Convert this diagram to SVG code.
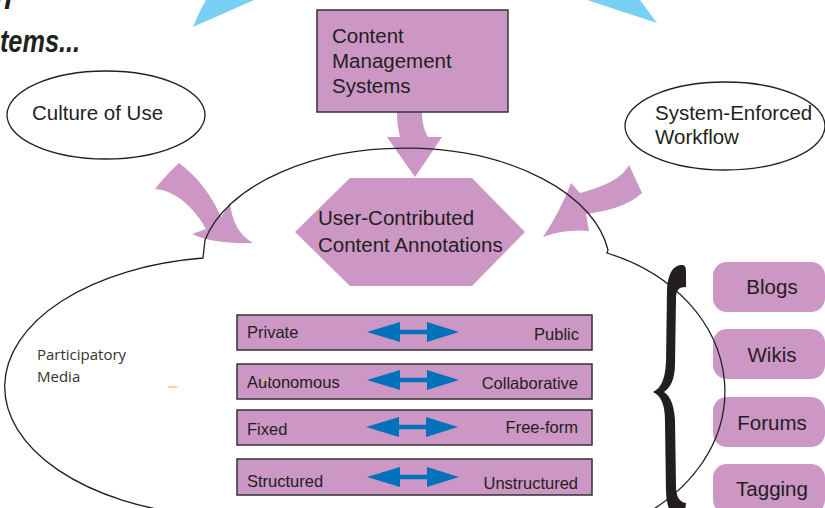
<svg xmlns="http://www.w3.org/2000/svg" width="825" height="508" viewBox="0 0 825 508">
<style>
.lbl{font-family:"Liberation Sans",Arial,sans-serif;font-size:20.5px;fill:#231f20}
.row{font-family:"Liberation Sans",Arial,sans-serif;font-size:16.5px;fill:#231f20}
.pink{fill:#cc96c5}
.bar{fill:#cc96c5;stroke:#333;stroke-width:1.5}
.blue{fill:#0072bc}
.sky{fill:#78d0f5}
.oval{fill:none;stroke:#231f20;stroke-width:1.3}
</style>
<defs>
<path id="dbl" d="M367,0 L400,-10 L400,-2.3 L427,-2.3 L427,-10 L459,0 L427,10 L427,2.3 L400,2.3 L400,10 Z"/>
</defs>
<rect width="825" height="508" fill="#fff"/>
<g id="title">
<text x="12" y="9" text-anchor="end" font-family="Liberation Sans,Arial,sans-serif" font-size="30" font-weight="bold" font-style="italic" fill="#231f20">in</text>
<text x="-45" y="52" textLength="125" lengthAdjust="spacingAndGlyphs" font-family="Liberation Sans,Arial,sans-serif" font-size="31" font-weight="bold" font-style="italic" fill="#231f20">Systems...</text>
</g>
<g id="sky-shapes">
<path class="sky" d="M193,27 Q200,10 206,0 L254,0 Z"/>
<path class="sky" d="M587,0 L640,0 L657,23 Z"/>
</g>
<g id="connectors">
<path class="pink" d="M155,189 C176,190 196,210 206,229 L192,234 Q212,244 253,243 Q233,232 230,203 L221,217 C212,196 198,177 179,163 Q165,176 155,189 Z"/>
<path class="pink" d="M397,112 C397,125 399,132 400,137 L387,137 L415,177 L442,137 L428,137 C424,130 422,122 422,112 Z"/>
<path class="pink" d="M629,165 C622,178 606,186 580,193 L571,183 Q560,212 543,237 Q565,229 589,231 L586,214 C608,211 628,206 642,193 Z"/>
</g>
<g id="node-culture">
<ellipse class="oval" cx="106" cy="115" rx="99" ry="44"/>
<text class="lbl" x="32" y="120">Culture of Use</text>
</g>
<g id="node-workflow">
<ellipse class="oval" cx="725" cy="126" rx="100" ry="44"/>
<text class="lbl" x="655" y="120">System-Enforced</text>
<text class="lbl" x="655" y="144">Workflow</text>
</g>
<g id="node-cms">
<rect x="317" y="10" width="191" height="102" fill="#cc96c5" stroke="#333" stroke-width="1.5"/>
<text class="lbl" x="332" y="43">Content</text>
<text class="lbl" x="332" y="68">Management</text>
<text class="lbl" x="332" y="93">Systems</text>
</g>
<g id="node-annotations">
<polygon class="pink" points="350,178 472,178 525,232 472,286 350,286 295,232"/>
<text class="lbl" x="318" y="225">User-Contributed</text>
<text class="lbl" x="318" y="252">Content Annotations</text>
</g>
<g id="node-rows">
<rect class="bar" x="237" y="315" width="355" height="35"/>
<rect class="bar" x="237" y="364" width="355" height="35"/>
<rect class="bar" x="237" y="410" width="355" height="35"/>
<rect class="bar" x="237" y="459" width="355" height="36"/>
<use href="#dbl" class="blue" transform="translate(0,332)"/>
<use href="#dbl" class="blue" transform="translate(0,380)"/>
<use href="#dbl" class="blue" transform="translate(-1,427)"/>
<use href="#dbl" class="blue" transform="translate(0,477)"/>
<text class="row" x="247" y="338">Private</text>
<text class="row" x="579" y="340" text-anchor="end">Public</text>
<text class="row" x="247" y="388">Autonomous</text>
<text class="row" x="578" y="389" text-anchor="end">Collaborative</text>
<text class="row" x="247" y="435">Fixed</text>
<text class="row" x="578" y="433" text-anchor="end">Free-form</text>
<text class="row" x="247" y="487">Structured</text>
<text class="row" x="578" y="489" text-anchor="end">Unstructured</text>
<line x1="262" y1="380" x2="269" y2="380" stroke="#f9c74f" stroke-width="1.5"/>
</g>
<g id="node-tools">
<rect class="pink" x="713" y="262" width="112" height="50" rx="14"/>
<rect class="pink" x="713" y="329" width="112" height="50" rx="14"/>
<rect class="pink" x="713" y="397" width="112" height="50" rx="14"/>
<rect class="pink" x="713" y="464" width="112" height="50" rx="14"/>
<text class="lbl" x="772" y="294" text-anchor="middle">Blogs</text>
<text class="lbl" x="772" y="362" text-anchor="middle">Wikis</text>
<text class="lbl" x="772" y="430" text-anchor="middle">Forums</text>
<text class="lbl" x="772" y="496" text-anchor="middle">Tagging</text>
</g>
<g id="brace">
<path fill="#231f20" d="M682,265 C674,265 668,272 667,290 L666,362 C665,380 661,388 653,392 C661,396 665,404 665,422 L666,492 C667,510 672,519 684,519 L686,503 C679,502 676,496 676,486 L675,420 C674,404 670,396 664,392 C670,388 675,380 675,364 L676,298 C676,290 679,287 686,287 L686,272 C686,267 685,265 682,265 Z"/>
</g>
<g id="node-participatory">
<path class="oval" d="M197,515 A230,130 0 0 1 203,258 L205,240 A205,118 0 0 1 608,250 L607,253 A182,148 0 0 1 631,521"/>
<text x="37" y="360" font-family="Open Sans,Liberation Sans,sans-serif" font-size="15" fill="#333">Participatory</text>
<text x="37" y="382" font-family="Open Sans,Liberation Sans,sans-serif" font-size="15" fill="#333">Media</text>
<line x1="168" y1="387" x2="177" y2="387" stroke="#f9c74f" stroke-width="1.5"/>
</g>
</svg>
